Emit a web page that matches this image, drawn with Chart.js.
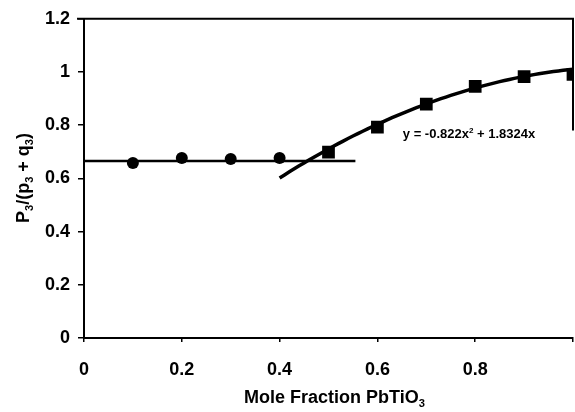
<!DOCTYPE html>
<html>
<head>
<meta charset="utf-8">
<script src="https://cdn.jsdelivr.net/npm/chart.js@4/dist/chart.umd.min.js"></script>
<style>
  html, body { margin: 0; padding: 0; background: #fff; overflow: hidden; }
  #wrap { width: 575px; height: 412px; }
</style>
</head>
<body>
<div id="wrap"><canvas id="c" width="575" height="412"></canvas></div>
<script>
// Measured ratio P3/(p3+q3) against mole fraction of PbTiO3
const rhombX = [0.1, 0.2, 0.3, 0.4];
const rhombY = [0.658, 0.677, 0.673, 0.677];
const tetraX = [0.5, 0.6, 0.7, 0.8, 0.9, 1.0];
const tetraY = [0.699, 0.793, 0.879, 0.946, 0.983, 0.991];

// Horizontal trend line through the rhombohedral points
const flatX = [0, 0.555];
const flatY = [0.665, 0.665];

// Quadratic fit y = a*x^2 + b*x, drawn over its fitted range
const fitCoef = [-0.822, 1.8324];
const fitRange = [0.4, 1.0];

const xTicks = [0, 0.2, 0.4, 0.6, 0.8, 1];
const yTicks = [0, 0.2, 0.4, 0.6, 0.8, 1, 1.2];

const toPts = (xs, ys) => xs.map((x, i) => ({ x: x, y: ys[i] }));

const fitPts = [];
for (let k = 0; k <= 60; k++) {
  const x = fitRange[0] + (fitRange[1] - fitRange[0]) * k / 60;
  fitPts.push({ x: x, y: fitCoef[0] * x * x + fitCoef[1] * x });
}

const FONT = '"Liberation Sans", Arial, sans-serif';

// Measures text pieces that may carry sub/superscripts
function drawRich(ctx, parts, size) {
  let total = 0;
  parts.forEach(p => {
    ctx.font = 'bold ' + (p.s ? size * 0.62 : size) + 'px ' + FONT;
    p.w = ctx.measureText(p.t).width;
    total += p.w;
  });
  return total;
}
// Paints measured pieces one after another
function paintRich(ctx, parts, size, x0, y0) {
  let x = x0;
  parts.forEach(p => {
    ctx.font = 'bold ' + (p.s ? size * 0.62 : size) + 'px ' + FONT;
    let dy = 0;
    if (p.s === 'sub') dy = size * 0.22;
    if (p.s === 'sup') dy = -size * 0.38;
    ctx.fillText(p.t, x, y0 + dy);
    x += p.w;
  });
}

const annot = {
  id: 'annot',
  afterDraw(chart) {
    const ctx = chart.ctx;
    const a = chart.chartArea;
    const xs = chart.scales.x, ys = chart.scales.y;
    ctx.save();
    ctx.fillStyle = '#000';
    ctx.textAlign = 'left';
    ctx.textBaseline = 'alphabetic';

    // frame: top edge and upper part of the right edge
    ctx.strokeStyle = '#000';
    ctx.lineWidth = 2;
    ctx.beginPath();
    ctx.moveTo(a.left - 7, a.top);
    ctx.lineTo(a.right, a.top);
    ctx.lineTo(a.right, ys.getPixelForValue(0.78));
    ctx.stroke();

    // x axis title
    const xt = [{ t: 'Mole Fraction PbTiO' }, { t: '3', s: 'sub' }];
    const wx = drawRich(ctx, xt, 18);
    paintRich(ctx, xt, 18, (a.left + a.right) / 2 + 6 - wx / 2, 403);

    // y axis title (rotated)
    const yt = [{ t: 'P' }, { t: '3', s: 'sub' }, { t: '/(p' }, { t: '3', s: 'sub' },
                { t: ' + q' }, { t: '3', s: 'sub' }, { t: ')' }];
    const wy = drawRich(ctx, yt, 18);
    ctx.save();
    ctx.translate(29, 178);
    ctx.rotate(-Math.PI / 2);
    paintRich(ctx, yt, 18, -wy / 2, 0);
    ctx.restore();

    // fit equation
    const eq = [{ t: 'y = ' + fitCoef[0] + 'x' }, { t: '2', s: 'sup' },
                { t: ' + ' + fitCoef[1] + 'x' }];
    drawRich(ctx, eq, 13);
    paintRich(ctx, eq, 13, xs.getPixelForValue(0.652), ys.getPixelForValue(0.752));
    ctx.restore();
  }
};

new Chart(document.getElementById('c'), {
  type: 'scatter',
  data: {
    datasets: [
      { data: toPts(flatX, flatY), showLine: true, borderColor: '#000', borderWidth: 2.5,
        pointRadius: 0, order: 3 },
      { data: fitPts, showLine: true, borderColor: '#000', borderWidth: 3.5,
        pointRadius: 0, order: 3 },
      { data: toPts(rhombX, rhombY), pointStyle: 'circle', pointRadius: 6,
        backgroundColor: '#000', borderColor: '#000', borderWidth: 0, order: 1 },
      { data: toPts(tetraX, tetraY), pointStyle: 'rect', pointRadius: 9,
        backgroundColor: '#000', borderColor: '#000', borderWidth: 0, order: 1 }
    ]
  },
  options: {
    responsive: false,
    animation: false,
    devicePixelRatio: 1,
    layout: { autoPadding: false, padding: { top: 17, right: 2, left: 0, bottom: 0 } },
    plugins: { legend: { display: false }, tooltip: { enabled: false } },
    scales: {
      x: {
        type: 'linear', min: xTicks[0], max: xTicks[xTicks.length - 1],
        afterBuildTicks: s => { s.ticks = xTicks.map(v => ({ value: v })); },
        afterFit: s => { s.height = 74; s.paddingLeft = 0; s.paddingRight = 0; },
        grid: { drawOnChartArea: false, drawTicks: true, tickLength: 4, color: '#000', lineWidth: 1.5 },
        border: { display: true, color: '#000', width: 2 },
        ticks: {
          color: '#000', padding: 17, maxRotation: 0,
          font: { family: FONT, size: 18, weight: 'bold' },
          callback: v => (v >= 1 ? '' : String(Math.round(v * 10) / 10))
        }
      },
      y: {
        type: 'linear', min: yTicks[0], max: yTicks[yTicks.length - 1],
        afterBuildTicks: s => { s.ticks = yTicks.map(v => ({ value: v })); },
        afterFit: s => { s.width = 84; },
        grid: { drawOnChartArea: false, drawTicks: true, tickLength: 6, color: '#000', lineWidth: 1.5 },
        border: { display: true, color: '#000', width: 2 },
        ticks: {
          color: '#000', padding: 8,
          font: { family: FONT, size: 18, weight: 'bold' },
          callback: v => String(Math.round(v * 10) / 10)
        }
      }
    }
  },
  plugins: [annot]
});
</script>
</body>
</html>
